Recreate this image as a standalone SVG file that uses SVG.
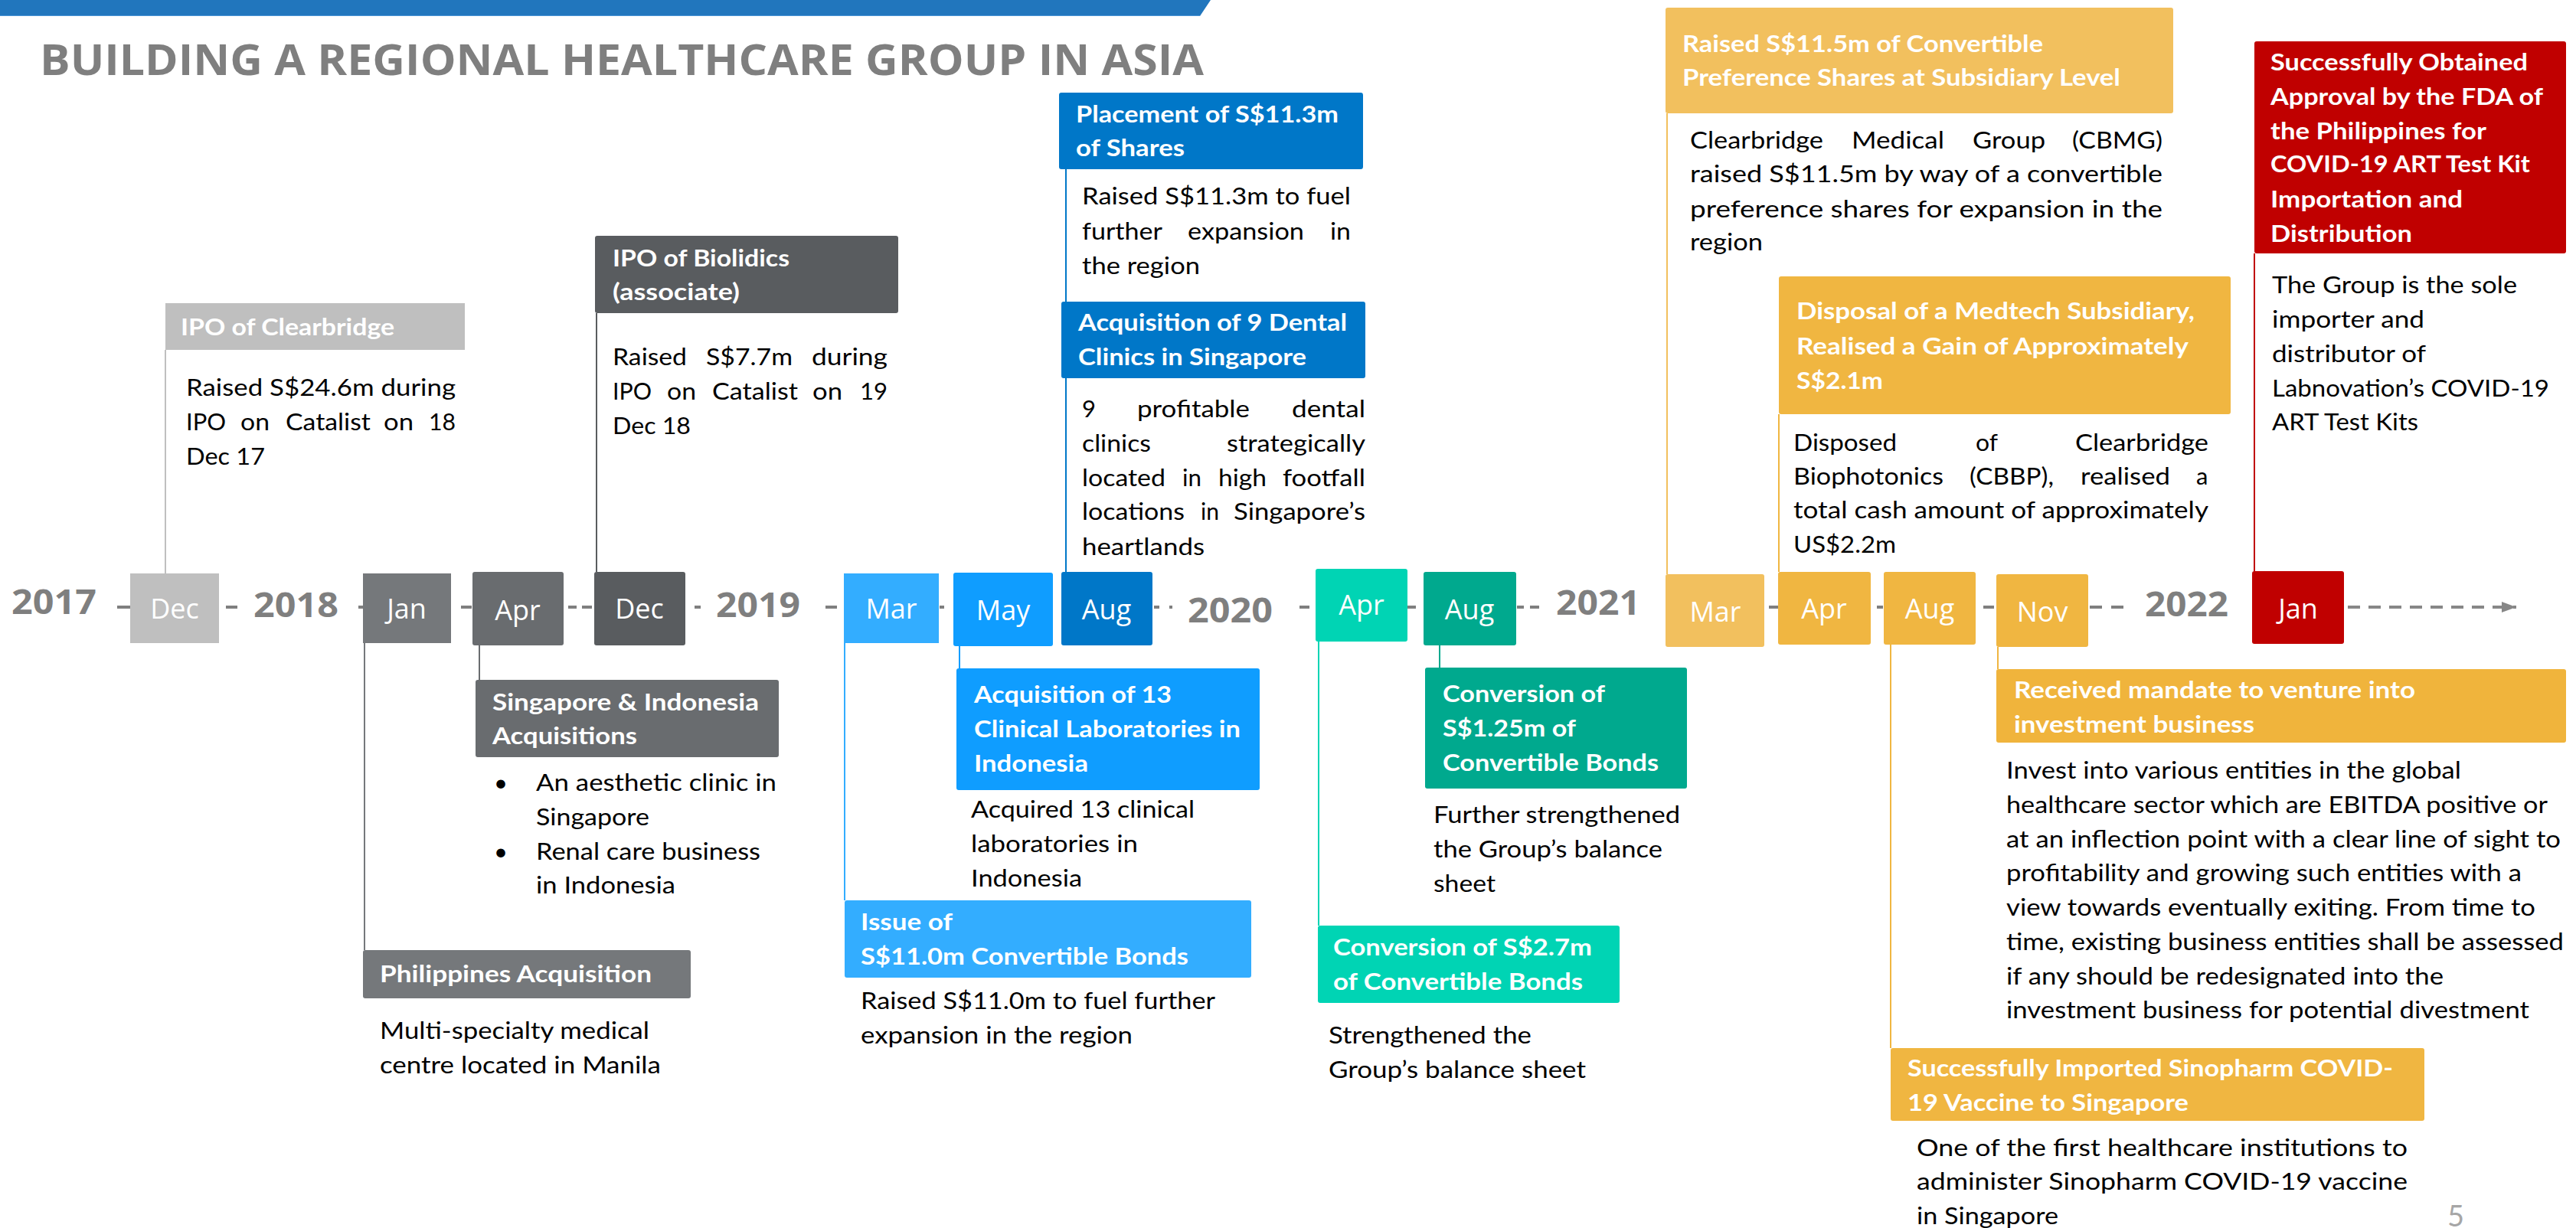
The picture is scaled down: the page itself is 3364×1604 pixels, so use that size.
<svg xmlns="http://www.w3.org/2000/svg" width="3364" height="1604" viewBox="0 0 3364 1604">
<defs>
<style>
text{font-family:Lato,"Liberation Sans",sans-serif}
.hd{font-weight:700;font-size:31px;fill:#fff}
.bd{font-size:31px;fill:#000}
.mo{font-family:"Open Sans","Liberation Sans",sans-serif;font-size:36px;fill:#fff;text-anchor:middle}
.yr{font-family:"Open Sans","Liberation Sans",sans-serif;font-weight:700;font-size:44px;fill:#7F7F7F}
.ttl{font-family:"Open Sans","Liberation Sans",sans-serif;font-weight:700;font-size:56px;fill:#7F7F7F}
.dash{stroke:#7F7F7F;stroke-width:4;fill:none}
.ln{stroke-width:2;fill:none}
</style>
<marker id="arr" markerWidth="19" markerHeight="14" refX="19" refY="7" orient="auto" markerUnits="userSpaceOnUse" viewBox="0 0 19 14">
<path d="M0,0 L19,7 L0,14 z" fill="#878787"/>
</marker>
</defs>
<rect width="3364" height="1604" fill="#fff"/>
<polygon points="0,0 1581,0 1567,21 0,21" fill="#2176BD"/>
<line x1="0" y1="20.5" x2="1567" y2="20.5" stroke="#4A95D6" stroke-width="1"/>
<text class="ttl" x="52" y="98" textLength="1520" lengthAdjust="spacingAndGlyphs">BUILDING A REGIONAL HEALTHCARE GROUP IN ASIA</text>

<g id="connectors">
<line class="ln" x1="216" y1="457" x2="216" y2="749" stroke="#BFBFBF"/>
<line class="ln" x1="779" y1="409" x2="779" y2="747" stroke="#595C5F"/>
<line class="ln" x1="476" y1="840" x2="476" y2="1241" stroke="#75787B"/>
<line class="ln" x1="626" y1="843" x2="626" y2="888" stroke="#696C6F"/>
<line class="ln" x1="1103" y1="840" x2="1103" y2="1176" stroke="#33ADFF"/>
<line class="ln" x1="1253" y1="844" x2="1253" y2="873" stroke="#0F9DFF"/>
<line class="ln" x1="1392" y1="221" x2="1392" y2="747" stroke="#0077C8"/>
<line class="ln" x1="1722" y1="838" x2="1722" y2="1209" stroke="#00D4B4"/>
<line class="ln" x1="1880" y1="843" x2="1880" y2="872" stroke="#00A98E"/>
<line class="ln" x1="2177" y1="148" x2="2177" y2="750" stroke="#F2C05E"/>
<line class="ln" x1="2323" y1="541" x2="2323" y2="747" stroke="#F0B641"/>
<line class="ln" x1="2469" y1="842" x2="2469" y2="1369" stroke="#F0B641"/>
<line class="ln" x1="2609" y1="845" x2="2609" y2="874" stroke="#F0B641"/>
<line class="ln" x1="2944" y1="331" x2="2944" y2="746" stroke="#C00000"/>
<path class="dash" d="M153 793H170M295 793H310M468 793H474M602 793H616M742 793H753M760 793H773M907 793H915M1078 793H1093M1227 793H1233M1507 793H1514M1527 793H1531M1697 793H1710M1838 793H1849M1981 793H1990M1998 793H2010M2310 793H2322M2451 793H2459M2590 793H2604M2729 793H2745M2757 793H2773"/>
<line x1="3066" y1="793" x2="3286" y2="793" stroke="#878787" stroke-width="4" stroke-dasharray="16 11" marker-end="url(#arr)"/>
</g>

<g id="years">
<text class="yr" x="15" y="802" textLength="111" lengthAdjust="spacingAndGlyphs">2017</text>
<text class="yr" x="331" y="806" textLength="111" lengthAdjust="spacingAndGlyphs">2018</text>
<text class="yr" x="935" y="806" textLength="110" lengthAdjust="spacingAndGlyphs">2019</text>
<text class="yr" x="1551" y="813" textLength="111" lengthAdjust="spacingAndGlyphs">2020</text>
<text class="yr" x="2032" y="803" textLength="110" lengthAdjust="spacingAndGlyphs">2021</text>
<text class="yr" x="2801" y="805" textLength="109" lengthAdjust="spacingAndGlyphs">2022</text>
</g>

<g id="m-dec2017"><rect x="170" y="749" width="116" height="91" fill="#BFBFBF"/><text class="mo" x="228" y="808">Dec</text></g>
<g id="m-jan2018"><rect x="474" y="749" width="115" height="91" fill="#75787B"/><text class="mo" x="531" y="808">Jan</text></g>
<g id="m-apr2018"><rect x="617" y="747" width="119" height="96" fill="#696C6F" rx="3"/><text class="mo" x="676" y="810">Apr</text></g>
<g id="m-dec2018"><rect x="776" y="747" width="119" height="96" fill="#595C5F" rx="3"/><text class="mo" x="835" y="808">Dec</text></g>
<g id="m-mar2019"><rect x="1102" y="749" width="124" height="91" fill="#33ADFF"/><text class="mo" x="1164" y="808">Mar</text></g>
<g id="m-may2019"><rect x="1245" y="748" width="130" height="96" fill="#0F9DFF" rx="3"/><text class="mo" x="1310" y="810">May</text></g>
<g id="m-aug2019"><rect x="1386" y="747" width="119" height="96" fill="#0077C8" rx="3"/><text class="mo" x="1445" y="809">Aug</text></g>
<g id="m-apr2020"><rect x="1718" y="743" width="120" height="95" fill="#00D4B4" rx="3"/><text class="mo" x="1778" y="803">Apr</text></g>
<g id="m-aug2020"><rect x="1859" y="747" width="121" height="96" fill="#00A98E" rx="3"/><text class="mo" x="1919" y="809">Aug</text></g>
<g id="m-mar2021"><rect x="2175" y="750" width="129" height="95" fill="#F2C05E" rx="3"/><text class="mo" x="2240" y="812">Mar</text></g>
<g id="m-apr2021"><rect x="2322" y="747" width="121" height="95" fill="#F0B641" rx="3"/><text class="mo" x="2382" y="808">Apr</text></g>
<g id="m-aug2021"><rect x="2460" y="747" width="120" height="95" fill="#F0B641" rx="3"/><text class="mo" x="2520" y="808">Aug</text></g>
<g id="m-nov2021"><rect x="2607" y="750" width="120" height="95" fill="#F0B641" rx="3"/><text class="mo" x="2667" y="812">Nov</text></g>
<g id="m-jan2022"><rect x="2941" y="746" width="120" height="95" fill="#C00000" rx="3"/><text class="mo" x="3001" y="808">Jan</text></g>

<g id="ev-ipo-clearbridge">
<rect x="216" y="396" width="391" height="61" fill="#BFBFBF"/>
<text class="hd" x="236" y="438" textLength="279" lengthAdjust="spacingAndGlyphs">IPO of Clearbridge</text>
<text class="bd" x="243" y="517" textLength="352" lengthAdjust="spacingAndGlyphs">Raised S$24.6m during</text>
<text class="bd" x="243" y="562" textLength="52" lengthAdjust="spacingAndGlyphs">IPO</text>
<text class="bd" x="314" y="562" textLength="38" lengthAdjust="spacingAndGlyphs">on</text>
<text class="bd" x="373" y="562" textLength="111" lengthAdjust="spacingAndGlyphs">Catalist</text>
<text class="bd" x="501" y="562" textLength="39" lengthAdjust="spacingAndGlyphs">on</text>
<text class="bd" x="560" y="562" textLength="35" lengthAdjust="spacingAndGlyphs">18</text>
<text class="bd" x="243" y="607" textLength="103" lengthAdjust="spacingAndGlyphs">Dec 17</text>
</g>

<g id="ev-ipo-biolidics">
<rect x="777" y="308" width="396" height="101" fill="#595C5F" rx="3"/>
<text class="hd" x="800" y="348" textLength="231" lengthAdjust="spacingAndGlyphs">IPO of Biolidics</text>
<text class="hd" x="800" y="392" textLength="166" lengthAdjust="spacingAndGlyphs">(associate)</text>
<text class="bd" x="800" y="477" textLength="97" lengthAdjust="spacingAndGlyphs">Raised</text>
<text class="bd" x="922" y="477" textLength="113" lengthAdjust="spacingAndGlyphs">S$7.7m</text>
<text class="bd" x="1060" y="477" textLength="99" lengthAdjust="spacingAndGlyphs">during</text>
<text class="bd" x="800" y="522" textLength="51" lengthAdjust="spacingAndGlyphs">IPO</text>
<text class="bd" x="871" y="522" textLength="38" lengthAdjust="spacingAndGlyphs">on</text>
<text class="bd" x="930" y="522" textLength="112" lengthAdjust="spacingAndGlyphs">Catalist</text>
<text class="bd" x="1061" y="522" textLength="39" lengthAdjust="spacingAndGlyphs">on</text>
<text class="bd" x="1123" y="522" textLength="36" lengthAdjust="spacingAndGlyphs">19</text>
<text class="bd" x="800" y="567" textLength="102" lengthAdjust="spacingAndGlyphs">Dec 18</text>
</g>

<g id="ev-philippines">
<rect x="474" y="1241" width="428" height="63" fill="#75787B" rx="3"/>
<text class="hd" x="496" y="1283" textLength="355" lengthAdjust="spacingAndGlyphs">Philippines Acquisition</text>
<text class="bd" x="496" y="1357" textLength="352" lengthAdjust="spacingAndGlyphs">Multi-specialty medical</text>
<text class="bd" x="496" y="1402" textLength="367" lengthAdjust="spacingAndGlyphs">centre located in Manila</text>
</g>

<g id="ev-sg-indo">
<rect x="621" y="888" width="396" height="101" fill="#696C6F" rx="3"/>
<text class="hd" x="643" y="928" textLength="348" lengthAdjust="spacingAndGlyphs">Singapore &amp; Indonesia</text>
<text class="hd" x="643" y="972" textLength="189" lengthAdjust="spacingAndGlyphs">Acquisitions</text>
<text class="bd" x="645" y="1033">•</text>
<text class="bd" x="700" y="1033" textLength="314" lengthAdjust="spacingAndGlyphs">An aesthetic clinic in</text>
<text class="bd" x="700" y="1078" textLength="148" lengthAdjust="spacingAndGlyphs">Singapore</text>
<text class="bd" x="645" y="1123">•</text>
<text class="bd" x="700" y="1123" textLength="293" lengthAdjust="spacingAndGlyphs">Renal care business</text>
<text class="bd" x="700" y="1167" textLength="182" lengthAdjust="spacingAndGlyphs">in Indonesia</text>
</g>

<g id="ev-issue-bonds">
<rect x="1103" y="1176" width="531" height="101" fill="#33ADFF" rx="3"/>
<text class="hd" x="1124" y="1215" textLength="120" lengthAdjust="spacingAndGlyphs">Issue of</text>
<text class="hd" x="1124" y="1260" textLength="428" lengthAdjust="spacingAndGlyphs">S$11.0m Convertible Bonds</text>
<text class="bd" x="1124" y="1318" textLength="463" lengthAdjust="spacingAndGlyphs">Raised S$11.0m to fuel further</text>
<text class="bd" x="1124" y="1363" textLength="355" lengthAdjust="spacingAndGlyphs">expansion in the region</text>
</g>

<g id="ev-acq-labs">
<rect x="1249" y="873" width="396" height="159" fill="#0F9DFF" rx="3"/>
<text class="hd" x="1272" y="918" textLength="258" lengthAdjust="spacingAndGlyphs">Acquisition of 13</text>
<text class="hd" x="1272" y="963" textLength="348" lengthAdjust="spacingAndGlyphs">Clinical Laboratories in</text>
<text class="hd" x="1272" y="1008" textLength="149" lengthAdjust="spacingAndGlyphs">Indonesia</text>
<text class="bd" x="1268" y="1068" textLength="292" lengthAdjust="spacingAndGlyphs">Acquired 13 clinical</text>
<text class="bd" x="1268" y="1113" textLength="218" lengthAdjust="spacingAndGlyphs">laboratories in</text>
<text class="bd" x="1268" y="1158" textLength="145" lengthAdjust="spacingAndGlyphs">Indonesia</text>
</g>

<g id="ev-placement">
<rect x="1383" y="121" width="397" height="100" fill="#0077C8" rx="3"/>
<text class="hd" x="1405" y="160" textLength="343" lengthAdjust="spacingAndGlyphs">Placement of S$11.3m</text>
<text class="hd" x="1405" y="204" textLength="142" lengthAdjust="spacingAndGlyphs">of Shares</text>
<text class="bd" x="1413" y="267" textLength="351" lengthAdjust="spacingAndGlyphs">Raised S$11.3m to fuel</text>
<text class="bd" x="1413" y="313" textLength="105" lengthAdjust="spacingAndGlyphs">further</text>
<text class="bd" x="1551" y="313" textLength="152" lengthAdjust="spacingAndGlyphs">expansion</text>
<text class="bd" x="1737" y="313" textLength="27" lengthAdjust="spacingAndGlyphs">in</text>
<text class="bd" x="1413" y="358" textLength="154" lengthAdjust="spacingAndGlyphs">the region</text>
</g>

<g id="ev-dental">
<rect x="1386" y="394" width="397" height="100" fill="#0077C8" rx="3"/>
<text class="hd" x="1408" y="432" textLength="351" lengthAdjust="spacingAndGlyphs">Acquisition of 9 Dental</text>
<text class="hd" x="1408" y="477" textLength="298" lengthAdjust="spacingAndGlyphs">Clinics in Singapore</text>
<text class="bd" x="1413" y="545">9</text>
<text class="bd" x="1485" y="545" textLength="147" lengthAdjust="spacingAndGlyphs">profitable</text>
<text class="bd" x="1687" y="545" textLength="96" lengthAdjust="spacingAndGlyphs">dental</text>
<text class="bd" x="1413" y="590" textLength="90" lengthAdjust="spacingAndGlyphs">clinics</text>
<text class="bd" x="1602" y="590" textLength="181" lengthAdjust="spacingAndGlyphs">strategically</text>
<text class="bd" x="1413" y="635" textLength="109" lengthAdjust="spacingAndGlyphs">located</text>
<text class="bd" x="1544" y="635" textLength="25" lengthAdjust="spacingAndGlyphs">in</text>
<text class="bd" x="1591" y="635" textLength="63" lengthAdjust="spacingAndGlyphs">high</text>
<text class="bd" x="1675" y="635" textLength="108" lengthAdjust="spacingAndGlyphs">footfall</text>
<text class="bd" x="1413" y="679" textLength="134" lengthAdjust="spacingAndGlyphs">locations</text>
<text class="bd" x="1568" y="679" textLength="24" lengthAdjust="spacingAndGlyphs">in</text>
<text class="bd" x="1611" y="679" textLength="172" lengthAdjust="spacingAndGlyphs">Singapore’s</text>
<text class="bd" x="1413" y="725" textLength="160" lengthAdjust="spacingAndGlyphs">heartlands</text>
</g>

<g id="ev-conv-125">
<rect x="1861" y="872" width="342" height="158" fill="#00A98E" rx="3"/>
<text class="hd" x="1884" y="917" textLength="212" lengthAdjust="spacingAndGlyphs">Conversion of</text>
<text class="hd" x="1884" y="962" textLength="174" lengthAdjust="spacingAndGlyphs">S$1.25m of</text>
<text class="hd" x="1884" y="1007" textLength="282" lengthAdjust="spacingAndGlyphs">Convertible Bonds</text>
<text class="bd" x="1872" y="1075" textLength="322" lengthAdjust="spacingAndGlyphs">Further strengthened</text>
<text class="bd" x="1872" y="1120" textLength="299" lengthAdjust="spacingAndGlyphs">the Group’s balance</text>
<text class="bd" x="1872" y="1165" textLength="81" lengthAdjust="spacingAndGlyphs">sheet</text>
</g>

<g id="ev-conv-27">
<rect x="1721" y="1209" width="394" height="101" fill="#00D4B4" rx="3"/>
<text class="hd" x="1741" y="1248" textLength="338" lengthAdjust="spacingAndGlyphs">Conversion of S$2.7m</text>
<text class="hd" x="1741" y="1293" textLength="326" lengthAdjust="spacingAndGlyphs">of Convertible Bonds</text>
<text class="bd" x="1735" y="1363" textLength="265" lengthAdjust="spacingAndGlyphs">Strengthened the</text>
<text class="bd" x="1735" y="1408" textLength="336" lengthAdjust="spacingAndGlyphs">Group’s balance sheet</text>
</g>

<g id="ev-cps">
<rect x="2175" y="10" width="663" height="138" fill="#F2C05E" rx="3"/>
<text class="hd" x="2197" y="68" textLength="471" lengthAdjust="spacingAndGlyphs">Raised S$11.5m of Convertible</text>
<text class="hd" x="2197" y="112" textLength="572" lengthAdjust="spacingAndGlyphs">Preference Shares at Subsidiary Level</text>
<text class="bd" x="2207" y="194" textLength="174" lengthAdjust="spacingAndGlyphs">Clearbridge</text>
<text class="bd" x="2418" y="194" textLength="121" lengthAdjust="spacingAndGlyphs">Medical</text>
<text class="bd" x="2576" y="194" textLength="95" lengthAdjust="spacingAndGlyphs">Group</text>
<text class="bd" x="2706" y="194" textLength="118" lengthAdjust="spacingAndGlyphs">(CBMG)</text>
<text class="bd" x="2207" y="238" textLength="617" lengthAdjust="spacingAndGlyphs">raised S$11.5m by way of a convertible</text>
<text class="bd" x="2207" y="284" textLength="617" lengthAdjust="spacingAndGlyphs">preference shares for expansion in the</text>
<text class="bd" x="2207" y="327" textLength="95" lengthAdjust="spacingAndGlyphs">region</text>
</g>

<g id="ev-disposal">
<rect x="2323" y="361" width="590" height="180" fill="#F0B641" rx="3"/>
<text class="hd" x="2346" y="417" textLength="520" lengthAdjust="spacingAndGlyphs">Disposal of a Medtech Subsidiary,</text>
<text class="hd" x="2346" y="463" textLength="512" lengthAdjust="spacingAndGlyphs">Realised a Gain of Approximately</text>
<text class="hd" x="2346" y="508" textLength="113" lengthAdjust="spacingAndGlyphs">S$2.1m</text>
<text class="bd" x="2342" y="589" textLength="135" lengthAdjust="spacingAndGlyphs">Disposed</text>
<text class="bd" x="2580" y="589" textLength="29" lengthAdjust="spacingAndGlyphs">of</text>
<text class="bd" x="2710" y="589" textLength="174" lengthAdjust="spacingAndGlyphs">Clearbridge</text>
<text class="bd" x="2342" y="633" textLength="196" lengthAdjust="spacingAndGlyphs">Biophotonics</text>
<text class="bd" x="2572" y="633" textLength="110" lengthAdjust="spacingAndGlyphs">(CBBP),</text>
<text class="bd" x="2717" y="633" textLength="117" lengthAdjust="spacingAndGlyphs">realised</text>
<text class="bd" x="2868" y="633">a</text>
<text class="bd" x="2342" y="677" textLength="542" lengthAdjust="spacingAndGlyphs">total cash amount of approximately</text>
<text class="bd" x="2342" y="722" textLength="134" lengthAdjust="spacingAndGlyphs">US$2.2m</text>
</g>

<g id="ev-sinopharm">
<rect x="2469" y="1369" width="697" height="95" fill="#F0B641" rx="3"/>
<text class="hd" x="2491" y="1406" textLength="634" lengthAdjust="spacingAndGlyphs">Successfully Imported Sinopharm COVID-</text>
<text class="hd" x="2491" y="1451" textLength="367" lengthAdjust="spacingAndGlyphs">19 Vaccine to Singapore</text>
<text class="bd" x="2503" y="1510" textLength="641" lengthAdjust="spacingAndGlyphs">One of the first healthcare institutions to</text>
<text class="bd" x="2503" y="1554" textLength="641" lengthAdjust="spacingAndGlyphs">administer Sinopharm COVID-19 vaccine</text>
<text class="bd" x="2503" y="1599" textLength="185" lengthAdjust="spacingAndGlyphs">in Singapore</text>
</g>

<g id="ev-mandate">
<rect x="2607" y="874" width="744" height="96" fill="#F0B43C" rx="3"/>
<text class="hd" x="2630" y="912" textLength="524" lengthAdjust="spacingAndGlyphs">Received mandate to venture into</text>
<text class="hd" x="2630" y="957" textLength="314" lengthAdjust="spacingAndGlyphs">investment business</text>
<text class="bd" x="2620" y="1017" textLength="594" lengthAdjust="spacingAndGlyphs">Invest into various entities in the global</text>
<text class="bd" x="2620" y="1062" textLength="707" lengthAdjust="spacingAndGlyphs">healthcare sector which are EBITDA positive or</text>
<text class="bd" x="2620" y="1107" textLength="724" lengthAdjust="spacingAndGlyphs">at an inflection point with a clear line of sight to</text>
<text class="bd" x="2620" y="1151" textLength="673" lengthAdjust="spacingAndGlyphs">profitability and growing such entities with a</text>
<text class="bd" x="2620" y="1196" textLength="691" lengthAdjust="spacingAndGlyphs">view towards eventually exiting. From time to</text>
<text class="bd" x="2620" y="1241" textLength="728" lengthAdjust="spacingAndGlyphs">time, existing business entities shall be assessed</text>
<text class="bd" x="2620" y="1286" textLength="571" lengthAdjust="spacingAndGlyphs">if any should be redesignated into the</text>
<text class="bd" x="2620" y="1330" textLength="683" lengthAdjust="spacingAndGlyphs">investment business for potential divestment</text>
</g>

<g id="ev-fda">
<rect x="2944" y="54" width="407" height="277" fill="#C00000" rx="3"/>
<text class="hd" x="2965" y="92" textLength="336" lengthAdjust="spacingAndGlyphs">Successfully Obtained</text>
<text class="hd" x="2965" y="137" textLength="356" lengthAdjust="spacingAndGlyphs">Approval by the FDA of</text>
<text class="hd" x="2965" y="182" textLength="282" lengthAdjust="spacingAndGlyphs">the Philippines for</text>
<text class="hd" x="2965" y="225" textLength="339" lengthAdjust="spacingAndGlyphs">COVID-19 ART Test Kit</text>
<text class="hd" x="2965" y="271" textLength="251" lengthAdjust="spacingAndGlyphs">Importation and</text>
<text class="hd" x="2965" y="316" textLength="185" lengthAdjust="spacingAndGlyphs">Distribution</text>
<text class="bd" x="2967" y="383" textLength="320" lengthAdjust="spacingAndGlyphs">The Group is the sole</text>
<text class="bd" x="2967" y="428" textLength="199" lengthAdjust="spacingAndGlyphs">importer and</text>
<text class="bd" x="2967" y="473" textLength="201" lengthAdjust="spacingAndGlyphs">distributor of</text>
<text class="bd" x="2967" y="518" textLength="362" lengthAdjust="spacingAndGlyphs">Labnovation’s COVID-19</text>
<text class="bd" x="2967" y="562" textLength="191" lengthAdjust="spacingAndGlyphs">ART Test Kits</text>
</g>

<text x="3196" y="1602" font-size="38" fill="#A6A6A6">5</text>
</svg>
